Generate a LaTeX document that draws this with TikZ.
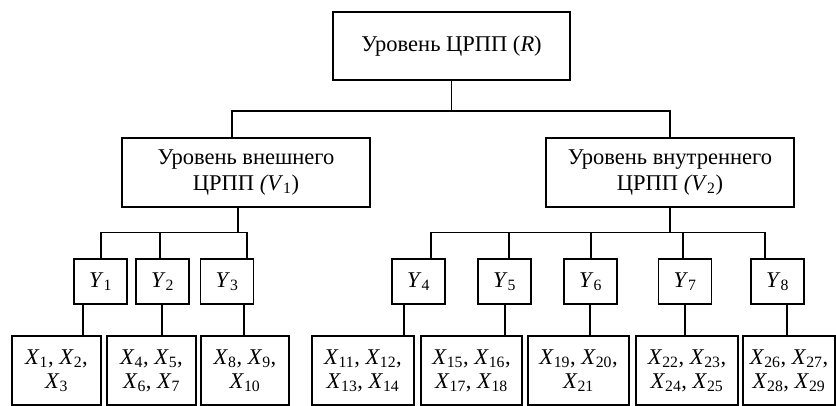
\documentclass[tikz,border=0pt]{standalone}
\usepackage{fontspec}
\setmainfont{Liberation Serif}
\usetikzlibrary{positioning}

\newcommand{\vsub}[2]{\textit{#1}\textsubscript{#2}}

\begin{document}
\begin{tikzpicture}[
    x=1pt, y=-1pt,
    level/.style={draw, rectangle, line width=1.1pt, inner sep=0pt, align=center, font=\fontsize{22.5}{26}\selectfont},
    factor/.style={draw, rectangle, line width=1.1pt, inner sep=0pt, minimum width=53pt, minimum height=45pt, font=\fontsize{22.5}{24}\selectfont},
    group/.style={draw, rectangle, line width=1.1pt, inner sep=0pt, minimum height=69pt, align=center, font=\fontsize{22.5}{24}\selectfont},
    link/.style={line width=1.1pt}
]
    \useasboundingbox (0,0) rectangle (836,406);

    % Root level
    \node[level, minimum width=237pt, minimum height=68pt] (root) at (451.5,46) {Уровень ЦРПП (\textit{R})};

    % Second level
    \node[level, minimum width=248pt, minimum height=69pt] (v1) at (246,172.5) {Уровень внешнего\\ЦРПП \textit{(V}\textsubscript{1})};
    \node[level, minimum width=248pt, minimum height=69pt] (v2) at (670,172.5) {Уровень внутреннего\\ЦРПП \textit{(V}\textsubscript{2})};

    % Bus lines
    \coordinate (tbus) at (0,111);
    \coordinate (bus) at (0,232.5);

    \draw[link] (root.south) -- (root.south |- tbus);
    \draw[link] ([xshift=-14pt]v1.north) |- (v2.north |- tbus) -- (v2.north);

    % Factors and groups
    \foreach \i/\yc/\td/\bd/\xc/\xw/\txt in {
        1/100.5/0.5/-17.5/56.5/89/{\vsub{X}{1}, \vsub{X}{2},\\\vsub{X}{3}},
        2/162.5/-2.5/-0.5/151.5/89/{\vsub{X}{4}, \vsub{X}{5},\\\vsub{X}{6}, \vsub{X}{7}},
        3/227/20/17/245/88/{\vsub{X}{8}, \vsub{X}{9},\\\vsub{X}{10}},
        4/418.5/12.5/-14.5/363/102/{\vsub{X}{11}, \vsub{X}{12},\\\vsub{X}{13}, \vsub{X}{14}},
        5/504.5/4.5/0.5/471.5/101/{\vsub{X}{15}, \vsub{X}{16},\\\vsub{X}{17}, \vsub{X}{18}},
        6/590.5/0.5/-0.5/578.5/101/{\vsub{X}{19}, \vsub{X}{20},\\\vsub{X}{21}},
        7/685/-2/0/687/102/{\vsub{X}{22}, \vsub{X}{23},\\\vsub{X}{24}, \vsub{X}{25}},
        8/777.5/-12.5/9.5/789/92/{\vsub{X}{26}, \vsub{X}{27},\\\vsub{X}{28}, \vsub{X}{29}}} {
        \node[factor] (y\i) at (\yc,281.5) {\vsub{Y}{\i}};
        \node[group, minimum width=\xw pt] (x\i) at (\xc,370.5) {\txt};
        \draw[link] ([xshift=\td pt]y\i.north) -- ([xshift=\td pt]y\i.north |- bus);
        \draw[link] ([xshift=\bd pt]y\i.south) -- ([xshift=\bd pt]y\i.south |- x\i.north);
    }

    \draw[link] ([xshift=0.5pt]y1.north |- bus) -- ([xshift=20pt]y3.north |- bus);
    \draw[link] ([xshift=12.5pt]y4.north |- bus) -- ([xshift=-12.5pt]y8.north |- bus);
    \draw[link] ([xshift=-8pt]v1.south) -- ([xshift=-8pt]v1.south |- bus);
    \draw[link] (v2.south) -- (v2.south |- bus);
\end{tikzpicture}
\end{document}
